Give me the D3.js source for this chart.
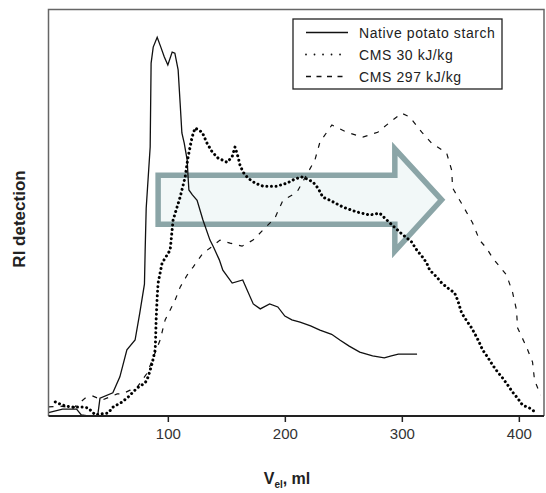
<!DOCTYPE html>
<html>
<head>
<meta charset="utf-8">
<script src="https://cdn.jsdelivr.net/npm/d3@7"></script>
<style>
  html, body { margin: 0; padding: 0; background: #fff; }
  svg { display: block; }
  text { font-family: "Liberation Sans", Arial, sans-serif; }
</style>
</head>
<body>
<svg id="chart" width="546" height="493"></svg>
<script>
// ---- data ----
const seriesNames = ["Native potato starch", "CMS 30 kJ/kg", "CMS 297 kJ/kg"];
const xTicks = [100, 200, 300, 400];

const nativeStarch = [[-2,0.9],[10,1.8],[22,1.8],[26,0.3],[32,0],[40,0],[42,4.7],[53,6.1],[59,10.3],[65,17.4],[72,20],[76,27.1],[80,34.7],[80.6,43.4],[81.5,54.7],[84.9,70.8],[85.7,92.9],[87.5,97.1],[90.9,99.7],[94,97.1],[97,94.5],[100,92.4],[103.7,95.8],[106,95.5],[108.8,91.1],[110.5,82.4],[112,74.5],[114,71.8],[116.5,67.4],[117.3,62.9],[118,59.5],[121,58.2],[125,56.8],[130,51.6],[136,46.3],[139,44.5],[144,41.1],[147,38.4],[155,35],[164,35.8],[173,29.5],[179,28.2],[187,29.5],[194,28.7],[200,26.3],[206,25.3],[213,24.7],[222,23.7],[230,22.6],[240,21.5],[247,20],[255,18.4],[264,16.8],[275,15.8],[285,15.3],[291,15.8],[297,16.3],[313,16.3]];

const cms30 = [[3.8,3.7],[9.8,2.9],[16.6,2.4],[26.9,2.4],[32,2.1],[38,0.3],[42.2,0.5],[49,0.8],[53.3,2.4],[61,3.7],[66.1,5],[73.8,7.4],[80.6,8.7],[83.2,10.3],[86.6,13.9],[89.2,17.4],[89.6,20.8],[90,25.3],[90.9,31.3],[91.7,35],[95.1,40.3],[99.4,42.4],[102,43.7],[104.5,51.6],[110.5,57.6],[114.8,62.9],[117.3,68.2],[120.7,73.4],[123.3,75.8],[129.3,74.7],[133.5,71.8],[137.9,69.5],[142.9,67.9],[150.6,66.8],[154.9,68.2],[157.4,70.8],[160,68.2],[161.7,66],[164.3,64.2],[168.5,62.6],[174.5,61.3],[181.3,60.5],[193.3,60.5],[201.8,61.3],[208.6,62.4],[214.6,62.9],[218.9,62.4],[224,61.6],[228.3,60],[232.5,57.6],[238.5,56.8],[249.6,55],[261.5,53.7],[272.6,52.9],[281.1,53.4],[287.1,51.6],[298.2,48.4],[308.4,45.8],[312.7,43.7],[317.8,41.8],[321.2,40.3],[323.8,38.4],[329.8,36.6],[334.1,35],[339.2,33.7],[345.1,32.4],[347.7,30.5],[351.1,27.1],[356.2,24.7],[359.6,23.2],[363.9,20.8],[366.4,19.2],[369,17.4],[373.3,15.5],[377.6,13.4],[381.8,11.6],[386.1,10],[390.4,8.2],[394.6,6.3],[398.9,4.7],[403.1,2.9],[409.1,2.1],[415.1,0.8]];

const cms297 = [[-2,2.4],[8.1,2.6],[19.2,2.1],[29.4,4.7],[35.4,5.3],[44,4.2],[56.7,5.8],[61,5.8],[67.8,6.8],[73.8,7.6],[82.3,11.3],[93.4,20],[97.7,25.3],[102,27.9],[106.2,30.5],[110.5,33.9],[116.5,37.1],[121.6,39.2],[130.1,42.9],[136.1,44.2],[144.6,46.3],[153.2,45.5],[163.4,44.7],[172.8,46.3],[177,47.6],[191.5,52.1],[198.4,56.8],[210.3,58.9],[225.7,67.4],[230,72.1],[240.2,76.6],[253,74.7],[266.6,73.4],[279.4,74.7],[292.2,77.9],[299.9,79.7],[306.7,78.7],[317,74.7],[325.5,71.8],[338.3,69.2],[342.6,64.7],[343.4,60],[351.9,55.5],[360.5,50.8],[366.4,46.3],[372.4,44.2],[377.6,41.6],[389.5,37.1],[394.6,32.6],[398,27.9],[398.9,23.2],[406.5,18.2],[411.7,14.2],[413.4,9.5],[418.5,5.5]];

// annotation arrow (in data units)
const arrowShaft = { x0: 91.7, x1: 294, yTop: 63.4, yBottom: 50.5 };
const arrowHead = { x: 294, tipX: 334, yTop: 70.3, yBottom: 43.4, yTip: 56.9 };

// ---- layout ----
const svg = d3.select("#chart");
const mLeft = 48.5, mRight = 544, mTop = 9.5, mBottom = 416;

const x = d3.scaleLinear().domain([-2, 421.5]).range([mLeft, mRight]);
const y = d3.scaleLinear().domain([0, 107]).range([mBottom, mTop]);

// arrow
const arrowPts = [
  [arrowShaft.x0, arrowShaft.yTop],
  [arrowHead.x, arrowShaft.yTop],
  [arrowHead.x, arrowHead.yTop],
  [arrowHead.tipX, arrowHead.yTip],
  [arrowHead.x, arrowHead.yBottom],
  [arrowHead.x, arrowShaft.yBottom],
  [arrowShaft.x0, arrowShaft.yBottom]
];
svg.append("path")
  .attr("d", d3.line().x(d => x(d[0])).y(d => y(d[1]))(arrowPts) + "Z")
  .attr("fill", "#f2f8f8")
  .attr("stroke", "#8ba5a7")
  .attr("stroke-width", 5.5)
  .attr("stroke-linejoin", "miter");

const line = d3.line().x(d => x(d[0])).y(d => y(d[1]));

// curves
svg.append("path").datum(nativeStarch)
  .attr("d", line).attr("fill", "none")
  .attr("stroke", "#111").attr("stroke-width", 1.3);

svg.append("path").datum(cms297)
  .attr("d", line).attr("fill", "none")
  .attr("stroke", "#111").attr("stroke-width", 1.2)
  .attr("stroke-dasharray", "5,7");

svg.append("path").datum(cms30)
  .attr("d", line).attr("fill", "none")
  .attr("stroke", "#000").attr("stroke-width", 3)
  .attr("stroke-linecap", "round")
  .attr("stroke-dasharray", "0.01,4.6");

// frame
svg.append("path")
  .attr("d", `M${mLeft},${mBottom} L${mLeft},${mTop} L${mRight},${mTop} L${mRight},${mBottom}`)
  .attr("fill", "none").attr("stroke", "#666").attr("stroke-width", 1.5);
svg.append("line")
  .attr("x1", mLeft).attr("x2", mRight).attr("y1", mBottom).attr("y2", mBottom)
  .attr("stroke", "#222").attr("stroke-width", 1.8);

// x axis
const xAxis = svg.append("g")
  .attr("transform", `translate(0,${mBottom})`)
  .call(d3.axisBottom(x).tickValues(xTicks).tickSize(6).tickPadding(6).tickFormat(d3.format("d")));
xAxis.select(".domain").remove();
xAxis.selectAll(".tick line").attr("stroke", "#222").attr("stroke-width", 1.5);
xAxis.selectAll(".tick text")
  .attr("fill", "#333")
  .style("font-size", "15px")
  .style("font-family", "'Liberation Sans', Arial, sans-serif");

// axis titles
const xt = svg.append("text")
  .attr("x", 287).attr("y", 484)
  .attr("text-anchor", "middle")
  .style("font-size", "16px").style("font-weight", "bold").attr("fill", "#222");
xt.append("tspan").text("V");
xt.append("tspan").text("el").attr("dy", 4).style("font-size", "10px");
xt.append("tspan").text(", ml").attr("dy", -4);

svg.append("text")
  .attr("transform", "translate(25,219) rotate(-90)")
  .attr("text-anchor", "middle")
  .style("font-size", "17px").style("font-weight", "bold").attr("fill", "#222")
  .text("RI detection");

// legend
const lg = svg.append("g");
lg.append("rect")
  .attr("x", 293).attr("y", 19).attr("width", 209).attr("height", 70)
  .attr("fill", "#fff").attr("stroke", "#222").attr("stroke-width", 1.3);
const legendStyles = [
  { dash: null, width: 1.5, cap: "butt" },
  { dash: "0.01,8.5", width: 1.8, cap: "round" },
  { dash: "5,5.5", width: 1.3, cap: "butt" }
];
seriesNames.forEach((name, i) => {
  const yy = 32.5 + i * 22;
  lg.append("line")
    .attr("x1", 306).attr("x2", 348).attr("y1", yy).attr("y2", yy)
    .attr("stroke", "#111").attr("stroke-width", legendStyles[i].width)
    .attr("stroke-linecap", legendStyles[i].cap)
    .attr("stroke-dasharray", legendStyles[i].dash);
  lg.append("text")
    .attr("x", 359).attr("y", yy).attr("dy", "0.36em")
    .style("font-size", "14px").style("letter-spacing", "0.6px")
    .attr("fill", "#222")
    .text(name);
});
</script>
</body>
</html>
